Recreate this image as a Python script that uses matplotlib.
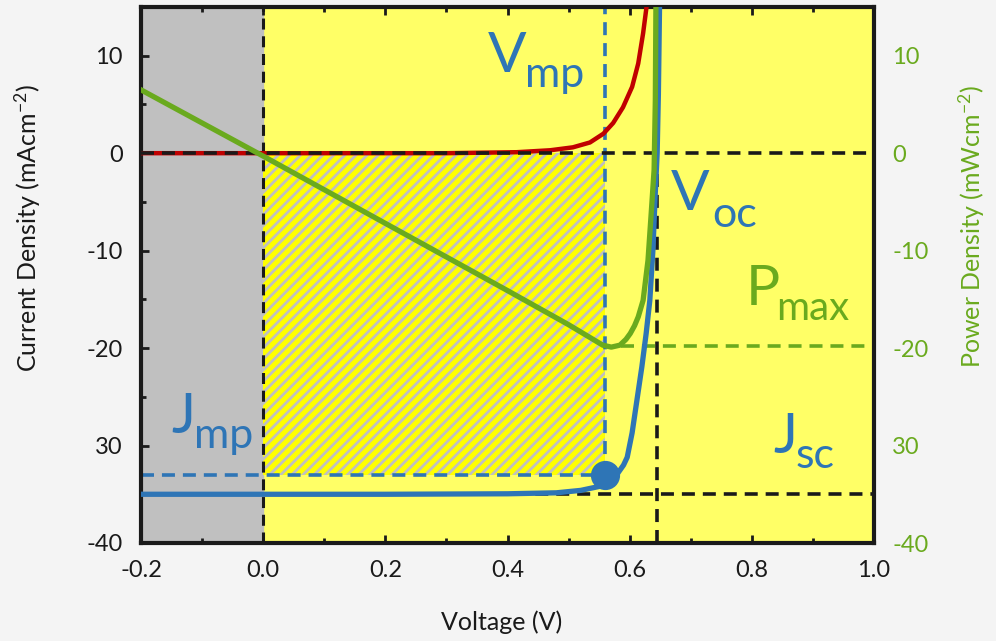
import matplotlib
matplotlib.use('Agg')
import matplotlib.pyplot as plt
import numpy as np

plt.rcParams['font.family'] = ['Lato', 'DejaVu Sans']
plt.rcParams['mathtext.fontset'] = 'custom'
plt.rcParams['mathtext.rm'] = 'Lato'
plt.rcParams['mathtext.default'] = 'regular'
plt.rcParams['hatch.linewidth'] = 2.0

# curva J-V sob iluminacao (V, mA/cm2)
v_luz = [-0.2, 0.0, 0.2, 0.4, 0.48, 0.52, 0.55, 0.57, 0.581, 0.59, 0.596,
         0.604, 0.612, 0.620, 0.627, 0.633, 0.638, 0.642, 0.645, 0.647, 0.649]
j_luz = [-35.0, -35.0, -35.0, -34.95, -34.85, -34.6, -34.2, -33.6, -32.8, -32.0, -31.2,
         -28.7, -25.3, -21.9, -18.5, -15.1, -10.0, -4.0, 0.0, 6.0, 15.5]

# corrente no escuro
v_escuro = [-0.2, 0.3, 0.415, 0.47, 0.507, 0.535, 0.557, 0.573, 0.589, 0.604,
            0.614, 0.622, 0.628]
j_escuro = [0.0, 0.0, 0.1, 0.3, 0.6, 1.1, 2.0, 3.1, 4.7, 6.8, 9.2, 12.3, 15.2]

# densidade de potencia (mW/cm2)
v_pot = [-0.2, 0.0, 0.2, 0.4, 0.5, 0.556, 0.57, 0.584, 0.594, 0.601, 0.608,
         0.614, 0.622, 0.630, 0.635, 0.640, 0.642, 0.643]
p_pot = [6.5, -0.3, -7.2, -14.1, -17.6, -19.7, -19.9, -19.7, -19.1, -18.5, -17.7,
         -16.8, -15.1, -11.0, -6.4, -1.7, 5.4, 15.5]

# pontos caracteristicos
v_mp = 0.56
j_mp = -33.0
v_oc = 0.645
j_sc = -35.0
p_max = -19.8

y_ticks = [10, 0, -10, -20, -30, -40]
y_rotulos = ['10', '0', '-10', '-20', '30', '-40']
x_ticks = [-0.2, 0.0, 0.2, 0.4, 0.6, 0.8, 1.0]
x_rotulos = ['-0.2', '0.0', '0.2', '0.4', '0.6', '0.8', '1.0']

azul = '#2e75b6'
verde = '#6aaa1e'
vermelho = '#c00000'
preto = '#1a1a1a'
tracejado = (0, (3.6, 2.2))

fig = plt.figure(figsize=(9.96, 6.41), dpi=100, facecolor='#f4f4f4')
ax = fig.add_axes([141 / 996, 1 - 543 / 641, 733 / 996, 536 / 641])
ax.set_facecolor('#ffff66')
ax.set_xlim(-0.2, 1.0)
ax.set_ylim(-40, 15)

# regiao de polarizacao reversa e area do ponto de maxima potencia
ax.axvspan(-0.2, 0.0, color='#c0c0c0', zorder=0)
ax.fill_between([0.0, v_mp], j_mp, 0.0, facecolor='#ffff00', edgecolor='#c0c0c0',
                hatch='///', linewidth=0, zorder=1)

# linhas de referencia
ax.axvline(0.0, color=preto, lw=2.2, ls=tracejado, zorder=2)
ax.plot([v_oc, v_oc], [-40, 0], color=preto, lw=2.6, ls=tracejado, zorder=2)
ax.plot([0.0, 1.0], [j_sc, j_sc], color=preto, lw=2.6, ls=tracejado, zorder=2)
ax.plot([v_mp, v_mp], [j_mp, 15], color=azul, lw=2.6, ls=tracejado, zorder=2)
ax.plot([-0.2, v_mp], [j_mp, j_mp], color=azul, lw=2.6, ls=tracejado, zorder=2)
ax.plot([0.585, 1.0], [p_max, p_max], color=verde, lw=2.6, ls=tracejado, zorder=2)

# curvas
ax.plot(v_escuro, j_escuro, color=vermelho, lw=3.2, zorder=3)
ax.plot([-0.2, 1.0], [0, 0], color=preto, lw=2.6, ls=tracejado, zorder=3.5)
ax.plot(v_luz, j_luz, color=azul, lw=3.8, zorder=4)
ax.plot(v_pot, p_pot, color=verde, lw=3.8, zorder=5)
ax.plot([v_mp], [j_mp], 'o', color=azul, markersize=20, zorder=6)

# rotulos dos parametros
def rotulo(x, y, base, sub, cor, dx, dy, tam_sub=31):
    ax.text(x, y, base, color=cor, fontsize=41, ha='left', va='baseline', zorder=7)
    ax.text(x + dx, y + dy, sub, color=cor, fontsize=tam_sub, ha='left', va='baseline', zorder=7)

rotulo(0.368, 8.3, 'V', 'mp', azul, 0.060, -1.5)
rotulo(0.667, -5.85, 'V', 'oc', azul, 0.068, -1.75)
rotulo(0.790, -15.6, 'P', 'max', verde, 0.050, -1.5, tam_sub=29)
rotulo(-0.150, -28.7, 'J', 'mp', azul, 0.036, -1.6)
rotulo(0.835, -30.8, 'J', 'sc', azul, 0.037, -1.5)

# eixos
for lado in ax.spines.values():
    lado.set_linewidth(3)
    lado.set_color(preto)
ax.set_xticks(x_ticks)
ax.set_xticklabels(x_rotulos)
ax.set_xticks(np.arange(-0.1, 1.0, 0.2), minor=True)
ax.set_yticks(y_ticks)
ax.set_yticklabels(y_rotulos)
ax.set_yticks([5, -5, -15, -25, -35], minor=True)
ax.tick_params(which='both', direction='in', top=True, right=True, width=2,
               color=preto, labelsize=17, labelcolor=preto)
ax.tick_params(which='major', length=6)
ax.tick_params(which='minor', length=3.5)
ax.tick_params(axis='y', pad=13)
ax.tick_params(axis='x', pad=12)

ax.set_xlabel('Voltage (V)', fontsize=18, color=preto)
ax.set_ylabel('Current Density (mAcm$^{-2}$)', fontsize=18, color=preto)
ax.xaxis.set_label_coords(0.492, -0.125)
ax.yaxis.set_label_coords(-0.134, 0.588)

# eixo da potencia
ax2 = ax.twinx()
ax2.set_ylim(-40, 15)
ax2.set_yticks(y_ticks)
ax2.set_yticklabels(y_rotulos)
ax2.tick_params(direction='in', length=0, pad=13, labelsize=17, labelcolor=verde)
for lado in ax2.spines.values():
    lado.set_visible(False)
ax2.set_ylabel('Power Density (mWcm$^{-2}$)', fontsize=18, color=verde)
ax2.yaxis.set_label_coords(1.113, 0.591)

fig.savefig('out.png', dpi=100, facecolor=fig.get_facecolor())
